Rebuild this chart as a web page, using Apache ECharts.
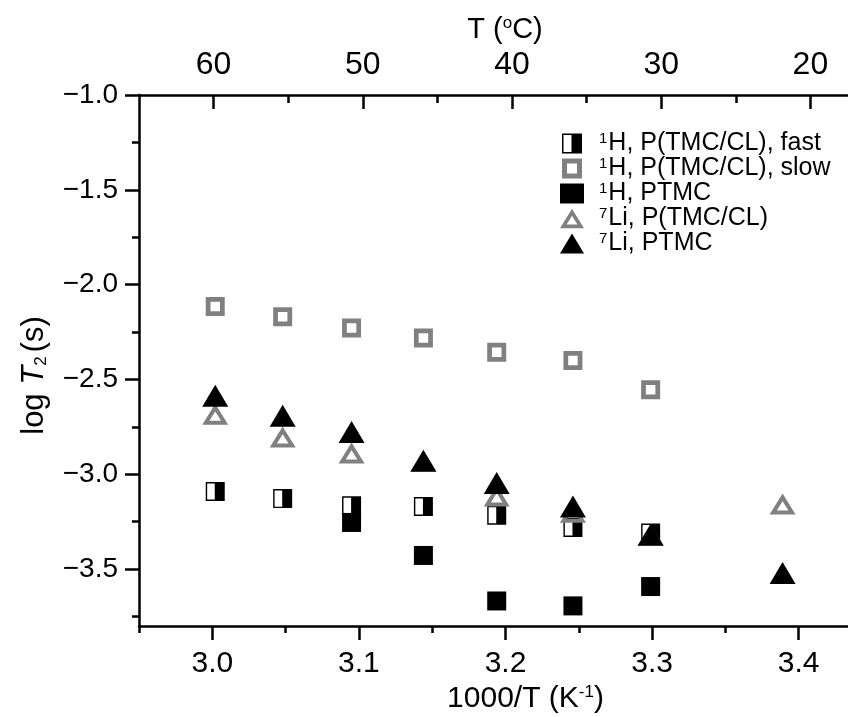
<!DOCTYPE html>
<html>
<head>
<meta charset="utf-8">
<title>log T2 vs 1000/T</title>
<script src="https://cdn.jsdelivr.net/npm/echarts@6.0.0/dist/echarts.min.js"></script>
<style>
html, body { margin: 0; padding: 0; background: #fff; }
#main { width: 848px; height: 717px; }
</style>
</head>
<body>
<div id="main"></div>
<script>
// 1000/T (K^-1), measured at 60, 55, 50, 45, 40, 35, 30 and 22 C
var invT = [3.002, 3.048, 3.095, 3.144, 3.194, 3.246, 3.299, 3.389];

// log T2 (s), null where there is no point
var hFast  = [-3.091, -3.128, -3.166, -3.170, -3.216, -3.280, -3.310, null];
var hSlow  = [-2.115, -2.169, -2.228, -2.281, -2.357, -2.400, -2.554, null];
var hPtmc  = [null, null, -3.254, -3.428, -3.668, -3.694, -3.592, null];
var liBlend = [-2.684, -2.804, -2.888, -2.930, -3.115, -3.200, -3.320, -3.157];
var liPtmc = [-2.586, -2.691, -2.777, -2.929, -3.046, -3.170, -3.319, -3.521];

var seriesNames = ['H, P(TMC/CL), fast', 'H, P(TMC/CL), slow', 'H, PTMC', 'Li, P(TMC/CL)', 'Li, PTMC'];
var nuclei = ['1', '1', '1', '7', '7'];

// ticks
var xMajor = [3.0, 3.1, 3.2, 3.3, 3.4];
var xMinor = [2.95, 3.05, 3.15, 3.25, 3.35, 3.45];
var yMajor = [-3.5, -3.0, -2.5, -2.0, -1.5, -1.0];
var yMinor = [-3.75, -3.25, -2.75, -2.25, -1.75, -1.25];
var tMajor = [60, 50, 40, 30, 20];
var tMinor = [55, 45, 35, 25];

var FONT = '"Liberation Sans", Arial, sans-serif';
var GRAY = '#808080';

var SQUARE_OPEN = 'path://M0,0H20V20H0Z M5,5V15H15V5Z';
var SQUARE_HALF = 'path://M0,0H20V20H0Z M1.5,1.5V18.5H9.5V1.5Z';
var TRI_OPEN = 'path://M13,0L26,21L0,21Z M13,7.6L7.18,17L18.82,17Z';

function pairs(ys) {
	var out = [];
	for (var i = 0; i < ys.length; i++) {
		if (ys[i] != null) {
			out.push([invT[i], ys[i]]);
		}
	}
	return out;
}

function scatter(index, ys, symbol, size, color) {
	return {
		name: seriesNames[index],
		type: 'scatter',
		xAxisIndex: 0,
		yAxisIndex: 0,
		symbol: symbol,
		symbolSize: size,
		itemStyle: { color: color, opacity: 1 },
		silent: true,
		data: pairs(ys)
	};
}

// superscript: tiny line height so it rides above the cap line
function supStyle(size) {
	return { fontFamily: FONT, fontSize: size, color: '#000', lineHeight: 6, verticalAlign: 'top' };
}

var axisLineStyle = { color: '#000', width: 2.5 };

function minorAxis(grid, pos, min, max, ticks, len, inside, inverse) {
	return {
		type: 'value',
		gridIndex: grid,
		position: pos,
		min: min,
		max: max,
		inverse: !!inverse,
		axisLine: { show: false, onZero: false },
		axisTick: { show: true, inside: !!inside, customValues: ticks, length: len, lineStyle: axisLineStyle },
		axisLabel: { show: false },
		splitLine: { show: false }
	};
}

var myChart = echarts.init(document.getElementById('main'));

var option = {
	animation: false,
	backgroundColor: '#fff',
	textStyle: { fontFamily: FONT, color: '#000' },
	grid: [
		{ left: 139, top: 95, right: -24, bottom: 91, containLabel: false, outerBoundsMode: 'none' },
		{ left: 139, top: 95, right: -37, bottom: 91, containLabel: false, outerBoundsMode: 'none' }
	],
	legend: {
		orient: 'vertical',
		left: 555,
		top: 126,
		itemWidth: 24,
		itemHeight: 20,
		itemGap: 0,
		selectedMode: false,
		data: seriesNames,
		formatter: function (name) {
			return '{sup|' + nuclei[seriesNames.indexOf(name)] + '}{n|' + name + '}';
		},
		textStyle: {
			fontFamily: FONT,
			fontSize: 25,
			color: '#000',
			rich: {
				sup: { fontFamily: FONT, fontSize: 15, color: '#000', lineHeight: 6, verticalAlign: 'top', padding: [0, 1, 0, 10] },
				n: { fontFamily: FONT, fontSize: 25, color: '#000', lineHeight: 24 }
			}
		}
	},
	xAxis: [
		{
			type: 'value',
			gridIndex: 0,
			position: 'bottom',
			min: 2.95,
			max: 3.45,
			name: '{n|1000/T (K}{sup|-1}{n|)}',
			nameLocation: 'middle',
			nameGap: 58,
			nameTextStyle: {
				fontFamily: FONT, fontSize: 30, color: '#000', padding: [0, 0, 0, 40],
				rich: {
					n: { fontFamily: FONT, fontSize: 30, color: '#000', lineHeight: 30 },
					sup: supStyle(17)
				}
			},
			axisLine: { show: true, onZero: false, lineStyle: axisLineStyle },
			axisTick: { show: true, customValues: xMajor, length: 14, lineStyle: axisLineStyle },
			axisLabel: {
				customValues: xMajor,
				fontFamily: FONT, fontSize: 30, color: '#000', margin: 23,
				formatter: function (v) { return v.toFixed(1); }
			},
			splitLine: { show: false }
		},
		minorAxis(0, 'bottom', 2.95, 3.45, xMinor, 7, false, false),
		{
			type: 'value',
			gridIndex: 1,
			position: 'top',
			inverse: true,
			min: 15,
			max: 65,
			name: '{n|T (}{sup|o}{n|C)}',
			nameLocation: 'middle',
			nameGap: 47,
			nameTextStyle: {
				fontFamily: FONT, fontSize: 29, color: '#000', padding: [0, 14, 0, 0],
				rich: {
					n: { fontFamily: FONT, fontSize: 29, color: '#000', lineHeight: 30 },
					sup: supStyle(17)
				}
			},
			axisLine: { show: true, onZero: false, lineStyle: axisLineStyle },
			axisTick: { show: true, inside: true, customValues: tMajor, length: 14, lineStyle: axisLineStyle },
			axisLabel: {
				customValues: tMajor,
				fontFamily: FONT, fontSize: 32, color: '#000', margin: 14
			},
			splitLine: { show: false }
		},
		minorAxis(1, 'top', 15, 65, tMinor, 8, true, true)
	],
	yAxis: [
		{
			type: 'value',
			gridIndex: 0,
			position: 'left',
			min: -3.8,
			max: -1.0,
			name: 'log {it|T}{sub|2}(s)',
			nameLocation: 'middle',
			nameGap: 89,
			nameTextStyle: {
				fontFamily: FONT, fontSize: 31, color: '#000', padding: [0, 30, 0, 0],
				rich: {
					it: { fontFamily: FONT, fontSize: 31, fontStyle: 'italic', color: '#000' },
					sub: { fontFamily: FONT, fontSize: 17, color: '#000', verticalAlign: 'bottom', padding: [0, 4, 0, 0] }
				}
			},
			axisLine: { show: true, onZero: false, lineStyle: axisLineStyle },
			axisTick: { show: true, customValues: yMajor, length: 14, lineStyle: axisLineStyle },
			axisLabel: {
				customValues: yMajor,
				fontFamily: FONT, fontSize: 28, color: '#000', margin: 21,
				formatter: function (v) { return v.toFixed(1).replace('-', '\u2212'); }
			},
			splitLine: { show: false }
		},
		minorAxis(0, 'left', -3.8, -1.0, yMinor, 7, false, false),
		{ type: 'value', gridIndex: 1, min: 0, max: 1, show: false }
	],
	series: [
		scatter(0, hFast, SQUARE_HALF, [19, 19], '#000'),
		scatter(1, hSlow, SQUARE_OPEN, [19, 19], GRAY),
		scatter(2, hPtmc, 'rect', [19, 19], '#000'),
		scatter(3, liBlend, TRI_OPEN, [26, 21], GRAY),
		scatter(4, liPtmc, 'triangle', [26, 22], '#000')
	]
};

myChart.setOption(option);
</script>
</body>
</html>
